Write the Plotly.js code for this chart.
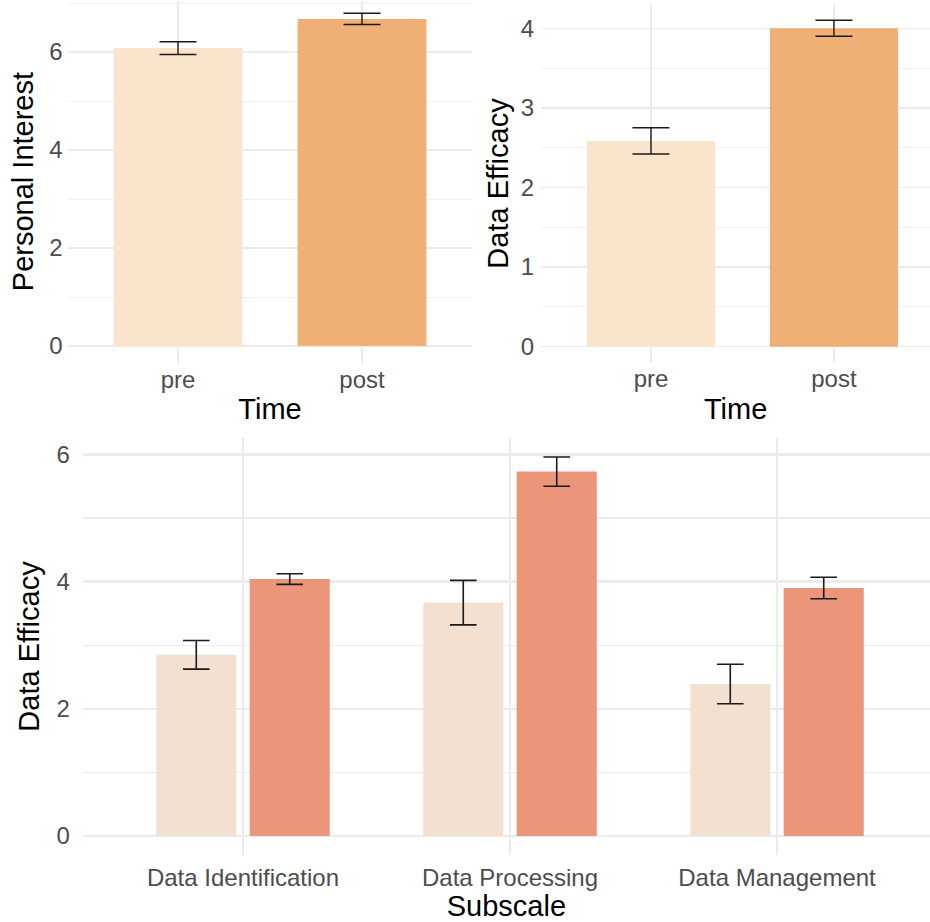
<!DOCTYPE html>
<html>
<head>
<meta charset="utf-8">
<script src="https://cdn.plot.ly/plotly-3.0.1.min.js"></script>
<style>html,body{margin:0;padding:0;background:#fff;}#chart{width:930px;height:922px;}</style>
</head>
<body>
<div id="chart"></div>
<script>
// ---- data ----
var timeLabels = ['pre', 'post'];
var interestMean = [6.08, 6.675];
var interestErr = [0.13, 0.115];
var efficacyMean = [2.585, 4.0];
var efficacyErr = [0.165, 0.10];
var subscales = ['Data Identification', 'Data Processing', 'Data Management'];
var subPreMean = [2.85, 3.67, 2.39];
var subPreErr = [0.225, 0.35, 0.31];
var subPostMean = [4.04, 5.73, 3.90];
var subPostErr = [0.083, 0.23, 0.17];

// ---- style ----
var W = 930, H = 922;
var topColors = ['#FAE5CC', '#F0AF74'];
var subPreColor = '#F3E0D1';
var subPostColor = '#EB967A';
var grid = '#EBEBEB';
var tickFont = {family: 'Liberation Sans, Arial, sans-serif', size: 24, color: '#4D4D4D'};
var titleFont = {family: 'Liberation Sans, Arial, sans-serif', size: 29, color: '#000000'};
function dx(a, b) { return [a / W, b / W]; }
function dy(top, bottom) { return [(H - bottom) / H, (H - top) / H]; }

var errStyle = function (arr, w, th) {
  return {type: 'data', array: arr, visible: true, color: '#1A1A1A', thickness: th, width: w};
};

var traces = [
  {type: 'bar', x: timeLabels, y: interestMean, width: 0.7, xaxis: 'x', yaxis: 'y',
   marker: {color: topColors}, error_y: errStyle(interestErr, 18.5, 1.4)},
  {type: 'bar', x: timeLabels, y: efficacyMean, width: 0.7, xaxis: 'x2', yaxis: 'y2',
   marker: {color: topColors}, error_y: errStyle(efficacyErr, 18.5, 1.4)},
  {type: 'bar', name: 'pre', x: subscales, y: subPreMean, width: 0.3, offset: -0.325, xaxis: 'x3', yaxis: 'y3',
   marker: {color: subPreColor}, error_y: errStyle(subPreErr, 13.3, 1.6)},
  {type: 'bar', name: 'post', x: subscales, y: subPostMean, width: 0.3, offset: 0.025, xaxis: 'x3', yaxis: 'y3',
   marker: {color: subPostColor}, error_y: errStyle(subPostErr, 13.3, 1.6)}
];

function xa(anchor, dom, range, title, gw, standoffLab, titleStandoff) {
  return {anchor: anchor, domain: dom, range: range, type: 'category', showgrid: true, gridcolor: grid, gridwidth: gw,
    zeroline: false, showline: false, ticks: '', tickfont: tickFont, ticklabelstandoff: standoffLab,
    title: {text: title, font: titleFont, standoff: titleStandoff}, fixedrange: true};
}
function ya(anchor, dom, range, dtick, title, gw, standoffLab, titleStandoff) {
  return {anchor: anchor, domain: dom, range: range, dtick: dtick, tick0: 0, showgrid: true, gridcolor: grid, gridwidth: gw,
    minor: {dtick: dtick / 2, tick0: 0, showgrid: true, gridcolor: grid, gridwidth: gw / 2, ticks: ''},
    zeroline: false, showline: false, ticks: '', tickfont: tickFont, ticklabelstandoff: standoffLab,
    title: {text: title, font: titleFont, standoff: titleStandoff}, fixedrange: true};
}

var layout = {
  width: W, height: H,
  margin: {l: 0, r: 0, t: 0, b: 0},
  paper_bgcolor: '#FFFFFF', plot_bgcolor: '#FFFFFF',
  showlegend: false,
  barmode: 'group',
  xaxis: xa('y', dx(67.6, 472.4), [-0.6, 1.6], 'Time', 1.3, 0, 7),
  yaxis: ya('x', dy(0.55, 362.6), [-0.338, 7.05], 2, 'Personal Interest', 1.3, 4, 7),
  xaxis2: xa('y2', dx(541.2, 930), [-0.6, 1.525], 'Time', 1.3, 0, 7),
  yaxis2: ya('x2', dy(5.2, 361.8), [-0.19, 4.29], 1, 'Data Efficacy', 1.3, 6, 3),
  xaxis3: xa('y3', dx(82.8, 930), [-0.6, 2.573], 'Subscale', 2.4, 6, 3),
  yaxis3: ya('x3', dy(437.9, 855.1), [-0.3, 6.26], 2, 'Data Efficacy', 2.4, 12, 8)
};

Plotly.newPlot('chart', traces, layout, {displayModeBar: false, staticPlot: true});
</script>
</body>
</html>
